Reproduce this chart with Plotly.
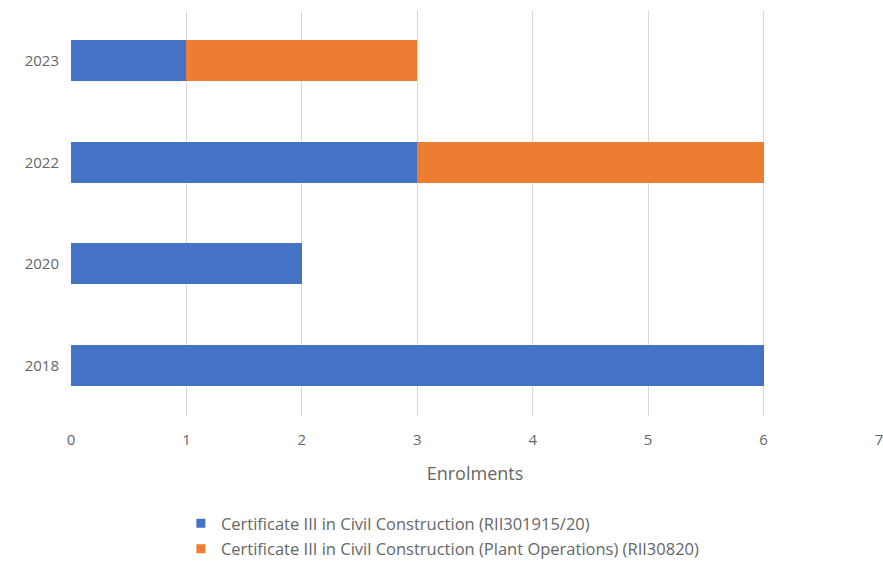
import plotly.graph_objects as go

# Enrolments by year, stacked by qualification
years = ["2018", "2020", "2022", "2023"]
civil_construction = [6, 2, 3, 1]
plant_operations = [0, 0, 3, 2]
series_names = [
    "Certificate III in Civil Construction (RII301915/20)",
    "Certificate III in Civil Construction (Plant Operations) (RII30820)",
]
series_colors = ["#4472C4", "#ED7D31"]
x_ticks = [0, 1, 2, 3, 4, 5, 6, 7]

TEXT = "#666666"
FONT = "'Open Sans', Lato, sans-serif"

fig = go.Figure()
for name, values, color in zip(series_names, [civil_construction, plant_operations], series_colors):
    fig.add_trace(go.Bar(
        y=years, x=values, orientation="h", name=name, showlegend=False,
        legendgroup=name, marker=dict(color=color, line=dict(width=0)),
    ))
    # small square legend key
    fig.add_trace(go.Scatter(
        x=[None], y=[None], mode="markers", name=name, legendgroup=name,
        marker=dict(symbol="square", size=9, color=color),
    ))

fig.update_layout(
    width=883, height=580,
    barmode="stack", bargap=0.6,
    paper_bgcolor="white", plot_bgcolor="white",
    margin=dict(l=71, r=4, t=10, b=164, autoexpand=False),
    font=dict(family=FONT, size=15, color=TEXT),
    xaxis=dict(
        range=[0, 7], tickvals=x_ticks, showgrid=True, gridcolor="#d9d9d9",
        gridwidth=1, zeroline=False, showline=False, ticks="",
        ticklabelstandoff=13, automargin=False, ticklabeloverflow="allow",
        tickfont=dict(size=15, color=TEXT),
        title=dict(text="Enrolments", font=dict(size=18, color=TEXT), standoff=19),
    ),
    yaxis=dict(
        showgrid=False, zeroline=False, showline=False, ticks="",
        ticklabelstandoff=11, categoryorder="array", categoryarray=years,
        automargin=False, tickfont=dict(size=15, color=TEXT),
    ),
    legend=dict(
        orientation="v", x=0.136, xanchor="left", y=-0.222, yanchor="top",
        font=dict(size=16.5, color=TEXT), itemwidth=30, tracegroupgap=1,
        traceorder="grouped",
    ),
    showlegend=True,
)

fig.write_html("out.html")
